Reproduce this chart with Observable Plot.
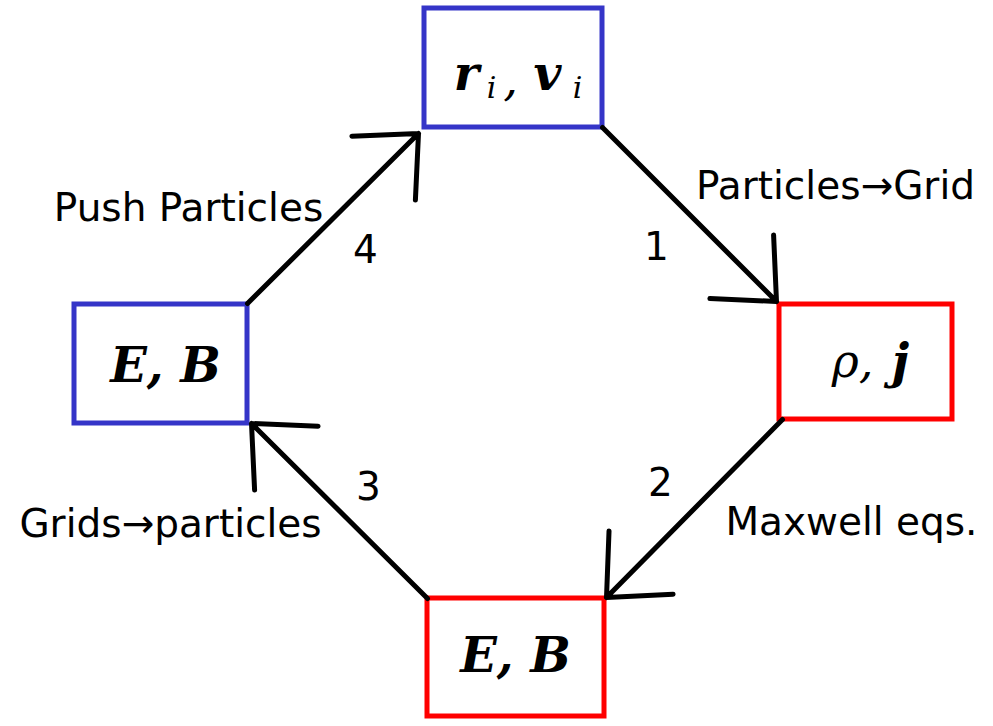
<!DOCTYPE html>
<html><head>
<script src="https://cdn.jsdelivr.net/npm/d3@7"></script>
<script src="https://cdn.jsdelivr.net/npm/@observablehq/plot@0.6"></script>
<style>body{margin:0;background:#fff}</style>
</head><body>
<div id="chart"></div>
<script>
// boxes of the cycle diagram (pixel coords of the picture)
const boxes = [
  {x1: 424, y1: 8, x2: 602, y2: 127, c: "#3535c8"},
  {x1: 74, y1: 304, x2: 247, y2: 423, c: "#3535c8"},
  {x1: 779, y1: 304, x2: 952, y2: 419, c: "#ff0000"},
  {x1: 427, y1: 598, x2: 604, y2: 716, c: "#ff0000"}
];
const arrows = [
  {x1: 247, y1: 303, x2: 418, y2: 133},
  {x1: 602, y1: 127, x2: 776, y2: 301},
  {x1: 782, y1: 419, x2: 606, y2: 597},
  {x1: 427, y1: 598, x2: 251, y2: 423}
];
const sansLabels = [
  {x: 188, y: 208, t: "Push Particles"},
  {x: 365, y: 250, t: "4"},
  {x: 835, y: 186, t: "Particles\u2192Grid"},
  {x: 656, y: 247, t: "1"},
  {x: 660, y: 483, t: "2"},
  {x: 851, y: 522, t: "Maxwell eqs."},
  {x: 368, y: 487, t: "3"},
  {x: 170, y: 524, t: "Grids\u2192particles"}
];
const mathBold = [
  {x: 165, y: 366, t: "E, B"},
  {x: 515, y: 656, t: "E, B"},
  {x: 466, y: 74, t: "r"},
  {x: 547, y: 74, t: "v"},
  {x: 900, y: 362, t: "j"}
];
const mathPlain = [
  {x: 510, y: 80, t: ","},
  {x: 852, y: 362, t: "\u03c1,"}
];
const mathSub = [
  {x: 491, y: 88, t: "i"},
  {x: 577, y: 88, t: "i"}
];

const chart = Plot.plot({
  width: 993, height: 726,
  margin: 0,
  x: {domain: [0, 993], axis: null},
  y: {domain: [0, 726], range: [0, 726], axis: null},
  style: {background: "white"},
  marks: [
    Plot.rect(boxes, {x1: "x1", x2: "x2", y1: "y1", y2: "y2", fill: "none", stroke: "c", strokeWidth: 5}),
    Plot.arrow(arrows, {x1: "x1", y1: "y1", x2: "x2", y2: "y2", stroke: "black", strokeWidth: 5, headLength: 20, headAngle: 85, bend: 0}),
    Plot.text(sansLabels, {x: "x", y: "y", text: "t", fontSize: 39, fontFamily: "DejaVu Sans", fill: "black"}),
    Plot.text(mathBold, {x: "x", y: "y", text: "t", fontSize: 48, fontFamily: "DejaVu Serif", fontStyle: "italic", fontWeight: "bold", fill: "black"}),
    Plot.text(mathPlain, {x: "x", y: "y", text: "t", fontSize: 46, fontFamily: "DejaVu Serif", fontStyle: "italic", fill: "black"}),
    Plot.text(mathSub, {x: "x", y: "y", text: "t", fontSize: 30, fontFamily: "DejaVu Serif", fontStyle: "italic", fill: "black"})
  ]
});
document.getElementById("chart").append(chart);
</script>
</body></html>
